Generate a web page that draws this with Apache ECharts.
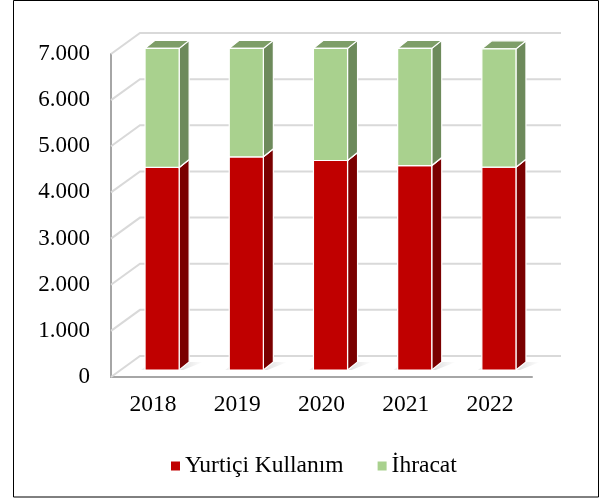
<!DOCTYPE html>
<html>
<head>
    <meta charset="utf-8" />
    <title>ECharts</title>
    <script src="https://cdn.jsdelivr.net/npm/echarts@6.0.0/dist/echarts.min.js"></script>
</head>
<body style="margin:0">
    <style>
        #main {
            width: 604px;
            height: 500px;
        }
    </style>
    <div id="main"></div>
    <script type="text/javascript">
        var years = ['2018', '2019', '2020', '2021', '2022'];
        var yurtici = [4390, 4620, 4540, 4430, 4395];
        var ihracat = [2580, 2350, 2430, 2540, 2565];
        var yTicks = [0, 1000, 2000, 3000, 4000, 5000, 6000, 7000];

        var FONT = "'Liberation Serif', 'Times New Roman', serif";
        // 3D offsets: wall depth, bar front offset, bar depth
        var WALL = [29, -21];
        var FRONT = [9, -7];
        var DEPTH = [10, -8];

        function bar3d(colors, shadow) {
            return function (params, api) {
                var i = api.value(0);
                var lo = api.coord([i, api.value(1)]);
                var hi = api.coord([i, api.value(2)]);
                var w = api.size([1, 0])[0] * 0.405;
                var x0 = lo[0] - w / 2 + FRONT[0], x1 = x0 + w;
                var yb = lo[1] + FRONT[1], yt = hi[1] + FRONT[1];
                var edge = { stroke: '#fff', lineWidth: 1.2 };
                var children = [];
                if (shadow) {
                    children.push({
                        type: 'polygon',
                        shape: { points: [[x0 - 4, yb], [x1 + 4, yb], [x1 + DEPTH[0] + 14, yb + DEPTH[1]], [x0 + DEPTH[0] - 4, yb + DEPTH[1]]] },
                        style: {
                            fill: new echarts.graphic.LinearGradient(0, 0, 1, 0, [
                                { offset: 0, color: 'rgba(0,0,0,0.05)' },
                                { offset: 0.5, color: 'rgba(0,0,0,0.18)' },
                                { offset: 1, color: 'rgba(0,0,0,0)' }
                            ])
                        }
                    });
                }
                children.push(
                    {
                        type: 'polygon',
                        shape: { points: [[x1, yb], [x1 + DEPTH[0], yb + DEPTH[1]], [x1 + DEPTH[0], yt + DEPTH[1]], [x1, yt]] },
                        style: Object.assign({ fill: colors.side }, edge)
                    },
                    {
                        type: 'polygon',
                        shape: { points: [[x0, yt], [x1, yt], [x1 + DEPTH[0], yt + DEPTH[1]], [x0 + DEPTH[0], yt + DEPTH[1]]] },
                        style: Object.assign({ fill: colors.top }, edge)
                    },
                    {
                        type: 'rect',
                        shape: { x: x0, y: yt, width: w, height: yb - yt },
                        style: Object.assign({ fill: colors.front }, edge)
                    }
                );
                return { type: 'group', children: children };
            };
        }

        var myChart = echarts.init(document.getElementById('main'));
        var option = {
            animation: false,
            backgroundColor: '#fff',
            grid: { left: 111, right: 72, top: 54, bottom: 123 },
            legend: {
                data: ['Yurtiçi Kullanım', 'İhracat'],
                left: 166,
                top: 449,
                icon: 'rect',
                itemWidth: 9,
                itemHeight: 9,
                itemGap: 34,
                textStyle: { fontSize: 23.5, fontFamily: FONT, color: '#000' }
            },
            xAxis: {
                type: 'category',
                data: years,
                axisLine: { lineStyle: { color: '#a6a6a6', width: 2 } },
                axisTick: { show: false },
                axisLabel: { fontSize: 23.5, fontFamily: FONT, color: '#000', margin: 16 }
            },
            yAxis: {
                type: 'value',
                min: 0,
                max: 7000,
                interval: 1000,
                axisLine: { show: true, lineStyle: { color: '#a6a6a6', width: 2 } },
                splitLine: { show: false },
                axisLabel: {
                    fontSize: 23, fontFamily: FONT, color: '#000', margin: 21,
                    formatter: function (v) {
                        return String(v).replace(/\B(?=(\d{3})+(?!\d))/g, '.');
                    }
                }
            },
            graphic: [{
                type: 'rect',
                shape: { x: 13.5, y: 0.5, width: 585, height: 496.5 },
                style: { fill: null, stroke: '#000', lineWidth: 1 }
            }],
            series: [
                {
                    name: 'wall',
                    type: 'custom',
                    silent: true,
                    z: 1,
                    data: yTicks.map(function (v) { return [0, v]; }),
                    renderItem: function (params, api) {
                        var cs = params.coordSys;
                        var y = api.coord([0, api.value(1)])[1];
                        return {
                            type: 'polyline',
                            shape: { points: [[cs.x, y], [cs.x + WALL[0], y + WALL[1]], [cs.x + cs.width + WALL[0], y + WALL[1]]] },
                            style: { stroke: '#d9d9d9', lineWidth: 2, fill: null }
                        };
                    }
                },
                {
                    name: 'Yurtiçi Kullanım',
                    type: 'custom',
                    itemStyle: { color: '#c00000' },
                    encode: { x: 0, y: [1, 2] },
                    data: yurtici.map(function (v, i) { return [i, 0, v]; }),
                    renderItem: bar3d({ front: '#c00000', side: '#7a0000', top: '#900000' }, true)
                },
                {
                    name: 'İhracat',
                    type: 'custom',
                    itemStyle: { color: '#a9d18e' },
                    encode: { x: 0, y: [1, 2] },
                    data: ihracat.map(function (v, i) { return [i, yurtici[i], yurtici[i] + v]; }),
                    renderItem: bar3d({ front: '#a9d18e', side: '#6d8a5b', top: '#7e9e68' }, false)
                }
            ]
        };
        myChart.setOption(option);
    </script>
</body>
</html>
